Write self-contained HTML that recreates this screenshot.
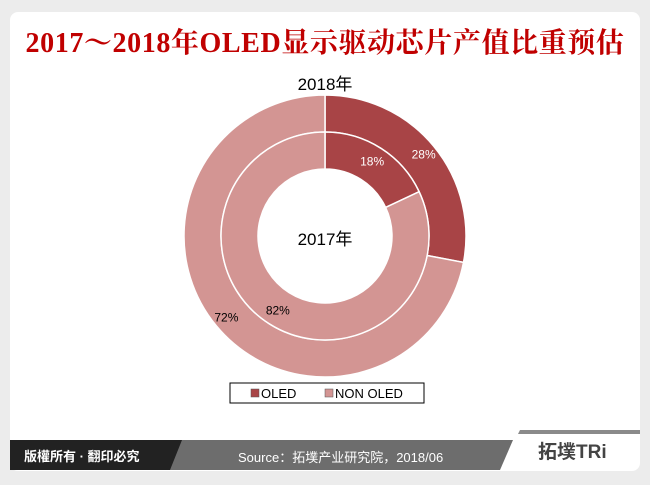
<!DOCTYPE html>
<html><head><meta charset="utf-8"><style>
body{margin:0;width:650px;height:485px;background:#ececec;overflow:hidden;font-family:"Liberation Sans","Noto Sans CJK SC",sans-serif}
#card{position:absolute;left:10px;top:12px;width:630px;height:459px;background:#fff;border-radius:8px;overflow:hidden}
#title{position:absolute;left:0;top:21px;width:650px;text-align:center;font-family:"Liberation Serif","Noto Serif CJK SC",serif;font-weight:bold;font-size:28px;color:#c00000;letter-spacing:0.6px}
</style></head><body>
<div id="card"></div>
<div id="title">2017～2018年OLED显示驱动芯片产值比重预估</div>
<svg width="650" height="485" style="position:absolute;left:0;top:0">
<text x="325" y="90" text-anchor="middle" font-size="17">2018年</text>
<g id="rings"></g>
<text x="325" y="245" text-anchor="middle" font-size="17">2017年</text>
<g>
<rect x="230" y="383" width="194" height="20" fill="#fff" stroke="#000" stroke-width="1"/>
<rect x="251" y="389" width="8" height="8" fill="#a84446" stroke="#555" stroke-width="0.5"/>
<text x="261" y="398" font-size="13">OLED</text>
<rect x="325" y="389" width="8" height="8" fill="#d39593" stroke="#555" stroke-width="0.5"/>
<text x="335" y="398" font-size="13">NON OLED</text>
</g>
<g>
<polygon points="10,440 513,440 500,470 10,470" fill="#6d6d6d"/>
<polygon points="10,440 182,440 170,470 10,470" fill="#222"/>
<polygon points="520,430 640,430 640,434 518,434" fill="#8a8a8a"/>
<text x="24" y="461" font-size="13" font-weight="bold" fill="#fff">版權所有 · 翻印必究</text>
<text x="238" y="462" font-size="13" fill="#fff">Source：拓墣产业研究院，2018/06</text>
<text x="538" y="458" font-size="19" font-weight="bold" fill="#444">拓墣TRi</text>
</g>
</svg>
<script>
const categories=["OLED","NON OLED"];
const values2018=[28,72];
const values2017=[18,82];
const colors=["#a84446","#d39593"];
const cx=325,cy=236;
const g=document.getElementById('rings');
function pt(r,a){const t=a*Math.PI/180;return [cx+r*Math.sin(t),cy-r*Math.cos(t)];}
function ring(vals,r0,r1,name,labelR){
 const tot=vals.reduce((a,b)=>a+b,0);let a=0;
 vals.forEach((v,i)=>{
  const a2=a+v/tot*360;const lg=(a2-a)>180?1:0;
  const p1=pt(r1,a),p2=pt(r1,a2),p3=pt(r0,a2),p4=pt(r0,a);
  const p=document.createElementNS('http://www.w3.org/2000/svg','path');
  p.setAttribute('d',`M${p1}A${r1},${r1} 0 ${lg} 1 ${p2}L${p3}A${r0},${r0} 0 ${lg} 0 ${p4}Z`);
  p.setAttribute('fill',colors[i]);p.setAttribute('stroke','#fff');p.setAttribute('stroke-width','1.5');
  
  
  g.appendChild(p);
  const m=pt(labelR,(a+a2)/2);
  const t=document.createElementNS('http://www.w3.org/2000/svg','text');
  t.setAttribute('x',m[0]);t.setAttribute('y',m[1]+4);t.setAttribute('text-anchor','middle');
  t.setAttribute('font-size','12');t.setAttribute('fill',i==0?'#fff':'#000');
  t.textContent=v+'%';
  
  
  g.appendChild(t);
  a=a2;});
}
ring(values2018,104,141,'slice-2018',128);
ring(values2017,67,104,'slice-2017',88);
</script>
</body></html>
